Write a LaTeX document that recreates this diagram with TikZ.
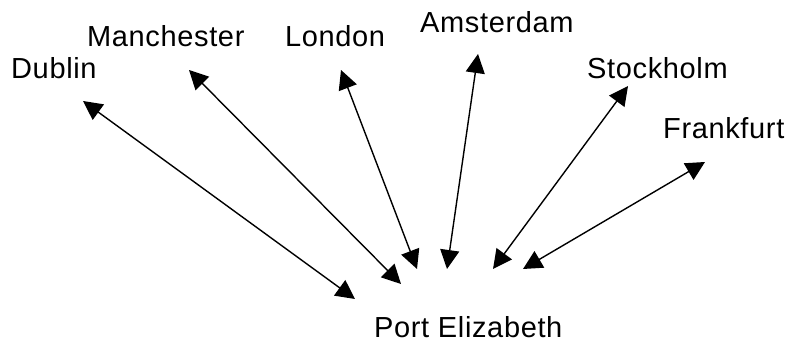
\documentclass[tikz,border=0pt]{standalone}
\usepackage{fontspec}
\setmainfont[LetterSpace=2.2]{Liberation Sans}
\usetikzlibrary{arrows.meta}
\begin{document}
\begin{tikzpicture}[x=1pt,y=1pt,
  city/.style={anchor=base west,inner sep=0pt,font=\fontsize{29}{32}\selectfont},
  link/.style={line width=1.4pt,{Triangle[length=19pt,width=19pt]}-{Triangle[length=19pt,width=19pt]}}]
\useasboundingbox (0,0) rectangle (786,344);
\node[city] (dub) at (11,265) {Dublin};
\node[city] (man) at (87,297) {Manchester};
\node[city] (lon) at (285,297) {London};
\node[city] (ams) at (420,311) {Amsterdam};
\node[city] (sto) at (587,265) {Stockholm};
\node[city] (fra) at (663,205) {Frankfurt};
\node[city] (pe) at (374,6) {Port Elizabeth};
\coordinate (dubA) at (83,243);
\coordinate (dubB) at (355,45);
\coordinate (manA) at (189,274);
\coordinate (manB) at (401,60);
\coordinate (lonA) at (341,274);
\coordinate (lonB) at (417,75);
\coordinate (amsA) at (478,290);
\coordinate (amsB) at (447,75);
\coordinate (stoA) at (628,258);
\coordinate (stoB) at (493,75);
\coordinate (fraA) at (705,182);
\coordinate (fraB) at (523,75);
\draw[link] (dubA) -- (dubB);
\draw[link] (manA) -- (manB);
\draw[link] (lonA) -- (lonB);
\draw[link] (amsA) -- (amsB);
\draw[link] (stoA) -- (stoB);
\draw[link] (fraA) -- (fraB);
\end{tikzpicture}
\end{document}
